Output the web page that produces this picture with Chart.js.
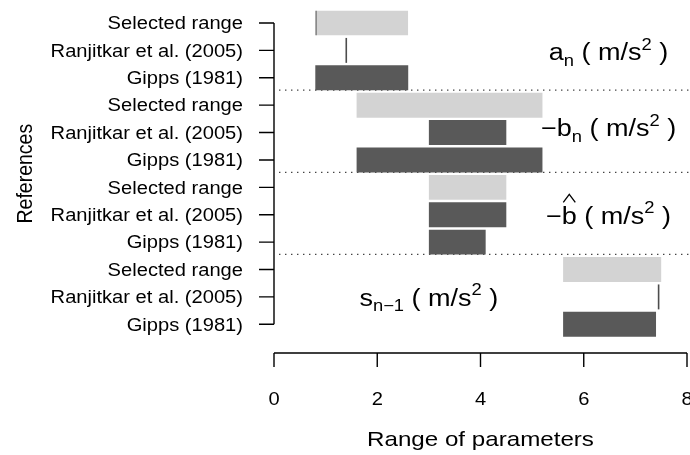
<!DOCTYPE html>
<html>
<head>
<meta charset="utf-8">
<script src="https://cdn.jsdelivr.net/npm/chart.js@4.4.0/dist/chart.umd.min.js"></script>
<style>
  html, body { margin: 0; padding: 0; background: #fff; }
  canvas { display: block; }
</style>
</head>
<body>
<canvas id="rangeChart" width="690" height="455"></canvas>
<script>
// rows top to bottom, three references per parameter
const rowLabels = [
  'Selected range', 'Ranjitkar et al. (2005)', 'Gipps (1981)',
  'Selected range', 'Ranjitkar et al. (2005)', 'Gipps (1981)',
  'Selected range', 'Ranjitkar et al. (2005)', 'Gipps (1981)',
  'Selected range', 'Ranjitkar et al. (2005)', 'Gipps (1981)'
];
const rangeLow  = [0.8, 1.4, 0.8,  1.6, 3.0, 1.6,  3.0, 3.0, 3.0,  5.6, 7.45, 5.6];
const rangeHigh = [2.6, 1.4, 2.6,  5.2, 4.5, 5.2,  4.5, 4.5, 4.1,  7.5, 7.45, 7.4];
const xTicks = [0, 2, 4, 6, 8];
const xTitle = 'Range of parameters';
const yTitle = 'References';

// parameter names, drawn as small math pieces
const paramNames = [
  [{t: 'a'}, {t: 'n', sub: 1}, {t: ' ( m/s'}, {t: '2', sup: 1}, {t: ' )'}],
  [{t: '\u2212'}, {t: 'b'}, {t: 'n', sub: 1}, {t: ' ( m/s'}, {t: '2', sup: 1}, {t: ' )'}],
  [{t: '\u2212'}, {t: 'b', hat: 1}, {t: ' ( m/s'}, {t: '2', sup: 1}, {t: ' )'}],
  [{t: 's'}, {t: 'n\u22121', sub: 1}, {t: ' ( m/s'}, {t: '2', sup: 1}, {t: ' )'}]
];
const paramAt = [[6.48, 1.13], [6.48, 3.92], [6.48, 7.1], [3.0, 10.1]];
const groupBreaks = [2.45, 5.45, 8.45];

const FONT = '"Liberation Sans", Arial, sans-serif';
const S = 1.15; // text is a bit wider than tall in the original

function wideText(ctx, text, x, y, size, align) {
  ctx.save();
  ctx.font = size + 'px ' + FONT;
  const w = ctx.measureText(text).width * S;
  const left = align === 'right' ? x - w : align === 'center' ? x - w / 2 : x;
  ctx.translate(left, y);
  ctx.scale(S, 1);
  ctx.textAlign = 'left';
  ctx.textBaseline = 'alphabetic';
  ctx.fillText(text, 0, 0);
  ctx.restore();
  return w;
}

function drawMath(ctx, parts, cx, cy, size) {
  const pieces = parts.map(p => {
    const fs = (p.sub || p.sup) ? size * 0.68 : size;
    ctx.font = fs + 'px ' + FONT;
    return Object.assign({}, p, {fs: fs, w: ctx.measureText(p.t).width * S});
  });
  const total = pieces.reduce((s, p) => s + p.w, 0);
  let px = cx - total / 2;
  const base = cy + 0.26 * size;
  pieces.forEach(p => {
    const dy = p.sub ? size * 0.24 : p.sup ? -size * 0.44 : 0;
    wideText(ctx, p.t, px, base + dy, p.fs, 'left');
    if (p.hat) {
      const top = base - 0.73 * size - 4;
      ctx.beginPath();
      ctx.moveTo(px + 0.1 * p.w, top);
      ctx.lineTo(px + 0.5 * p.w, top - 8);
      ctx.lineTo(px + 0.9 * p.w, top);
      ctx.stroke();
    }
    px += p.w;
  });
}

const rangeDecor = {
  id: 'rangeDecor',
  beforeDatasetsDraw(chart) {
    const ctx = chart.ctx;
    const x = chart.scales.x, y = chart.scales.y;
    ctx.save();
    ctx.strokeStyle = '#222';
    ctx.lineWidth = 1.2;
    ctx.setLineDash([1.2, 4.8]);
    groupBreaks.forEach(v => {
      const py = y.getPixelForValue(v);
      ctx.beginPath();
      ctx.moveTo(x.getPixelForValue(0.1), py);
      ctx.lineTo(chart.width, py);
      ctx.stroke();
    });
    ctx.restore();
  },
  afterDatasetsDraw(chart) {
    const ctx = chart.ctx;
    const x = chart.scales.x, y = chart.scales.y;
    const area = chart.chartArea;
    ctx.save();

    // zero-width ranges show as a thin line
    chart.getDatasetMeta(0).data.forEach(bar => {
      if (Math.abs(bar.x - bar.base) < 1) {
        ctx.fillStyle = '#4d4d4d';
        ctx.fillRect(bar.x - 0.8, bar.y - bar.height / 2, 1.6, bar.height);
      }
    });

    ctx.fillStyle = '#000';
    ctx.strokeStyle = '#000';
    ctx.lineWidth = 1.4;

    // y axis
    const ax = x.getPixelForValue(0);
    ctx.beginPath();
    ctx.moveTo(ax, y.getPixelForValue(0));
    ctx.lineTo(ax, y.getPixelForValue(rowLabels.length - 1));
    rowLabels.forEach((lab, i) => {
      const py = y.getPixelForValue(i);
      ctx.moveTo(ax, py);
      ctx.lineTo(ax - 15, py);
    });
    ctx.stroke();
    rowLabels.forEach((lab, i) => {
      wideText(ctx, lab, ax - 31, y.getPixelForValue(i) + 6.3, 17.5, 'right');
    });

    // x axis, pulled below the plot
    const ay = area.bottom + 15;
    ctx.beginPath();
    ctx.moveTo(x.getPixelForValue(xTicks[0]), ay);
    ctx.lineTo(x.getPixelForValue(xTicks[xTicks.length - 1]), ay);
    xTicks.forEach(t => {
      const px = x.getPixelForValue(t);
      ctx.moveTo(px, ay);
      ctx.lineTo(px, ay + 14);
    });
    ctx.stroke();
    xTicks.forEach(t => {
      wideText(ctx, String(t), x.getPixelForValue(t), ay + 51.5, 17.5, 'center');
    });

    wideText(ctx, xTitle, (area.left + area.right) / 2, 445.5, 21, 'center');

    // rotated y title
    ctx.save();
    ctx.translate(32, (area.top + area.bottom) / 2);
    ctx.scale(S, 1);
    ctx.rotate(-Math.PI / 2);
    ctx.font = '19.5px ' + FONT;
    ctx.textAlign = 'center';
    ctx.fillText(yTitle, 0, 0);
    ctx.restore();

    // parameter names
    ctx.lineWidth = 1.3;
    paramNames.forEach((parts, i) => {
      drawMath(ctx, parts, x.getPixelForValue(paramAt[i][0]), y.getPixelForValue(paramAt[i][1]), 23.5);
    });

    ctx.restore();
  }
};

new Chart(document.getElementById('rangeChart'), {
  type: 'bar',
  data: {
    labels: rowLabels,
    datasets: [{
      data: rangeLow.map((lo, i) => [lo, rangeHigh[i]]),
      backgroundColor: rowLabels.map(l => l === 'Selected range' ? '#d3d3d3' : '#595959'),
      borderColor: '#555',
      borderWidth: (c) => c.dataIndex === 0 ? {left: 1.5, top: 0, right: 0, bottom: 0} : 0,
      borderSkipped: false,
      barPercentage: 0.91,
      categoryPercentage: 1
    }]
  },
  options: {
    indexAxis: 'y',
    responsive: false,
    animation: false,
    layout: { padding: { left: 274, right: 3, top: 9.3, bottom: 117 } },
    scales: {
      x: { type: 'linear', min: 0, max: 8, display: false },
      y: { type: 'category', offset: true, display: false }
    },
    plugins: {
      legend: { display: false },
      tooltip: { enabled: false }
    }
  },
  plugins: [rangeDecor]
});
</script>
</body>
</html>
